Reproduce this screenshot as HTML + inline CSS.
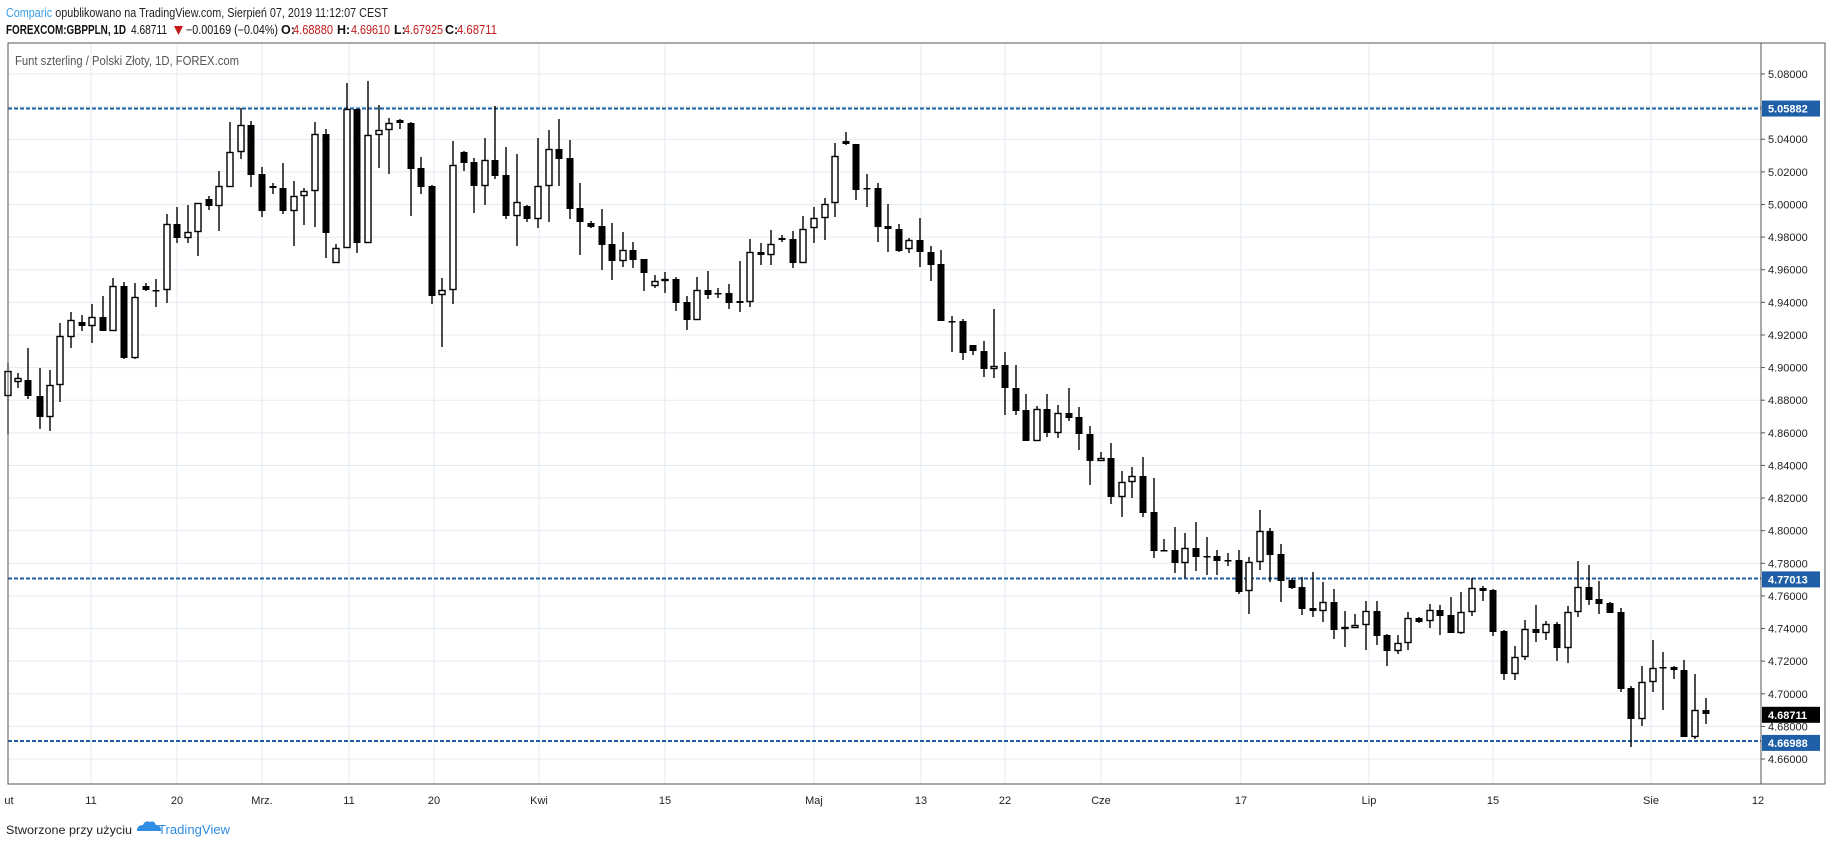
<!DOCTYPE html>
<html><head><meta charset="utf-8"><style>
html,body{margin:0;padding:0;background:#fff;}
svg{display:block;font-family:"Liberation Sans",sans-serif;}
</style></head><body>
<svg id="s" width="1828" height="849" xmlns="http://www.w3.org/2000/svg">
<rect width="1828" height="849" fill="#fff"/>
<text x="6" y="17" font-size="12.5" textLength="382" lengthAdjust="spacingAndGlyphs"><tspan fill="#3a9ee6">Comparic</tspan><tspan fill="#222"> opublikowano na TradingView.com, Sierpień 07, 2019 11:12:07 CEST</tspan></text>
<g font-size="12.5" fill="#111">
<text x="6" y="34" font-weight="bold" textLength="120" lengthAdjust="spacingAndGlyphs">FOREXCOM:GBPPLN, 1D</text>
<text x="131" y="34" textLength="36" lengthAdjust="spacingAndGlyphs">4.68711</text>
<polygon points="174,26 183,26 178.5,35" fill="#c21a1a"/>
<text x="186" y="34" textLength="92" lengthAdjust="spacingAndGlyphs">−0.00169 (−0.04%)</text>
<text x="281" y="34" font-weight="bold">O:</text><text x="293" y="34" fill="#c21a1a" textLength="40" lengthAdjust="spacingAndGlyphs">4.68880</text>
<text x="337" y="34" font-weight="bold">H:</text><text x="351" y="34" fill="#c21a1a" textLength="39" lengthAdjust="spacingAndGlyphs">4.69610</text>
<text x="394" y="34" font-weight="bold">L:</text><text x="404" y="34" fill="#c21a1a" textLength="39" lengthAdjust="spacingAndGlyphs">4.67925</text>
<text x="445" y="34" font-weight="bold">C:</text><text x="457" y="34" fill="#c21a1a" textLength="40" lengthAdjust="spacingAndGlyphs">4.68711</text>
</g>
<g id="grid" stroke="#e3ebf2" stroke-width="1"></g>
<g id="dash" stroke="#1e5fa8" stroke-width="2" stroke-dasharray="4,2">
<line x1="8" x2="1761" y1="108.5" y2="108.5"/>
<line x1="8" x2="1761" y1="578.5" y2="578.5"/>
<line x1="8" x2="1761" y1="741" y2="741"/>
</g>
<g id="candles"></g>
<rect x="8" y="43" width="1817" height="741" fill="none" stroke="#555" stroke-width="1"/>
<line x1="1761" y1="43" x2="1761" y2="784" stroke="#555"/>
<line x1="8" y1="784" x2="1825" y2="784" stroke="#555"/>
<text x="15" y="65" font-size="12.5" fill="#555" textLength="224" lengthAdjust="spacingAndGlyphs">Funt szterling / Polski Złoty, 1D, FOREX.com</text>
<g id="axis" font-size="11" fill="#222"></g>
<g id="time" font-size="11" fill="#222" text-anchor="middle"></g>
<text x="6" y="834" font-size="12" fill="#222" textLength="126" lengthAdjust="spacingAndGlyphs">Stworzone przy użyciu</text>
<path d="M137,831 q0,-6 6,-6 q2,-5 7,-3 q4,-2 6,3 q5,0 5,6 z" fill="#2f8de4"/>
<text x="158" y="834" font-size="12.5" fill="#2f8de4" textLength="72" lengthAdjust="spacingAndGlyphs">TradingView</text>
</svg>
<script>
var NS="http://www.w3.org/2000/svg";
function el(p,t,a,txt){var e=document.createElementNS(NS,t);for(var k in a)e.setAttribute(k,a[k]);if(txt)e.textContent=txt;document.getElementById(p).appendChild(e);return e;}
function Y(p){return 74+(5.08-p)/0.02*32.62;}
var vx=[9,91,177,262,349,434,539,665,814,921,1005,1101,1241,1369,1493,1651,1758];
var vl=["ut","11","20","Mrz.","11","20","Kwi","15","Maj","13","22","Cze","17","Lip","15","Sie","12"];
for(var i=0;i<vx.length;i++){if(i>0&&i<vx.length-1)el("grid","line",{x1:vx[i],x2:vx[i],y1:43,y2:784});el("time","text",{x:vx[i],y:804},vl[i]);}
for(var k=0;k<=21;k++){var p=5.08-k*0.02,y=Y(p);el("grid","line",{x1:8,x2:1761,y1:y,y2:y});el("axis","line",{x1:1761,x2:1765,y1:y,y2:y,stroke:"#555"});el("axis","text",{x:1768,y:y+4},p.toFixed(5));}
var sp=[[5.05882,"#1e5fa8"],[4.77013,"#1e5fa8"],[4.68711,"#000"],[4.66988,"#1e5fa8"]];
sp.forEach(function(s){var y=Y(s[0]);el("axis","rect",{x:1762,y:y-8,width:58,height:16,fill:s[1]});el("axis","text",{x:1768,y:y+4,fill:"#fff","font-weight":"bold"},s[0].toFixed(5));});
var C=[[8,'w',371,396,363,434],[18,'w',378,382,373,388],[28,'b',380,396,348,399],[40,'b',396,417,368,429],[50,'w',385,417,370,431],[60,'w',336,385,323,402],
[71,'w',320,337,312,348],[82,'b',322,326,315,331],[92,'w',317,326,304,343],[103,'b',317,331,296,331],[113,'w',286,331,278,331],[124,'b',286,358,282,359],[135,'w',297,358,283,359],[146,'b',286,290,283,291],[156,'b',290,291,279,307],[167,'w',224,290,214,303],[177,'b',224,238,207,243],[188,'w',232,238,205,243],[198,'w',203,232,203,256],[209,'b',199,206,196,210],[219,'w',186,206,171,231],[230,'w',152,187,122,187],[241,'w',125,152,108,159],[251,'b',125,175,121,187],
[262,'b',174,211,167,217],[273,'b',186,188,183,194],[283,'b',188,211,163,214],[294,'w',196,211,181,246],[304,'w',191,196,188,225],[315,'w',134,191,122,227],[326,'b',134,233,129,258],[336,'w',248,263,244,263],[347,'w',109,248,83,248],[357,'b',109,243,109,253],[368,'w',135,243,81,243],[379,'w',130,135,105,168],[389,'w',123,130,118,174],[400,'b',120,123,119,129],[411,'b',123,169,122,216],[421,'b',168,187,157,194],[432,'b',186,296,185,304],[442,'w',290,295,278,347],[453,'w',165,290,141,304],[464,'b',152,163,151,171],[474,'b',162,186,158,213],[485,'w',160,186,138,205],[495,'b',160,176,106,179],[506,'b',175,216,147,219],
[517,'w',202,216,154,246],[527,'b',206,219,205,222],[538,'w',186,219,138,228],[549,'w',149,186,130,222],[559,'b',149,159,119,186],[570,'b',158,209,140,219],[580,'b',208,222,183,255],[591,'b',223,227,221,228],[602,'b',226,245,209,270],[612,'b',244,261,223,280],[623,'w',250,261,232,267],[633,'b',250,260,242,268],[644,'b',259,273,259,291],[655,'w',281,286,275,288],[665,'w',279,281,272,293],[676,'b',279,303,277,311],[687,'b',302,320,296,330],[697,'w',290,320,277,320],[708,'b',290,295,271,299],[718,'b',293,294,288,298],[729,'b',293,303,284,309],[740,'b',301,303,261,312],[750,'w',252,302,239,307],[761,'b',252,255,243,265],[771,'w',244,255,230,265],[782,'b',238,240,235,242],[793,'b',239,263,231,268],
[803,'w',229,263,216,263],[814,'w',218,228,207,243],[825,'w',204,218,198,240],[835,'w',156,203,143,217],[846,'b',141,144,132,145],[856,'b',144,190,144,200],[867,'b',188,189,174,207],[878,'b',188,227,183,242],[888,'b',226,229,204,252],[899,'b',229,251,224,252],[909,'w',240,249,238,253],[920,'b',240,252,218,267],[931,'b',252,265,246,281],[941,'b',264,321,250,321],[952,'b',321,322,316,352],[963,'b',321,353,319,360],[973,'b',345,351,345,355],[984,'b',351,369,341,377],[994,'w',366,369,309,378],[1005,'b',365,388,352,415],[1016,'b',388,411,365,415],[1026,'b',410,441,394,441],[1037,'w',409,441,406,441],[1047,'b',409,433,394,437],[1058,'w',413,433,405,438],[1069,'b',413,418,388,421],[1079,'b',417,434,407,450],
[1090,'b',434,461,426,485],[1101,'w',458,461,452,461],[1111,'b',458,497,443,504],[1122,'w',482,497,471,517],[1132,'w',476,482,467,498],[1143,'b',476,513,457,517],[1154,'b',512,551,478,558],[1164,'b',550,551,539,551],[1175,'b',550,563,527,573],[1185,'w',548,563,533,578],[1196,'b',548,557,522,571],[1207,'b',556,557,537,575],[1217,'b',556,561,550,575],[1228,'b',560,561,553,566],[1239,'b',560,592,550,594],[1249,'w',562,591,557,614],[1260,'w',531,562,510,570],[1270,'b',531,555,528,582],[1281,'b',554,581,544,602],[1292,'b',580,588,578,589],[1302,'b',587,609,577,615],[1313,'b',608,611,572,617],[1323,'w',602,611,582,622],[1334,'b',602,630,589,639],[1345,'w',627,629,611,647],[1355,'w',625,628,614,628],[1366,'w',611,625,601,650],[1377,'b',611,636,601,645],
[1387,'b',635,651,634,666],[1398,'w',643,651,635,654],[1408,'w',618,643,612,650],[1419,'b',618,622,617,623],[1430,'w',610,621,604,628],[1440,'b',610,616,605,635],[1451,'b',615,633,597,633],[1461,'w',612,633,592,634],[1472,'w',588,612,578,616],[1483,'b',588,591,586,601],[1493,'b',590,632,589,636],[1504,'b',631,674,630,680],[1515,'w',657,674,646,680],[1525,'w',629,657,620,660],[1536,'b',629,633,605,642],[1546,'w',624,633,621,640],[1557,'b',624,648,622,661],[1568,'w',612,648,606,663],[1578,'w',587,612,561,617],[1589,'b',587,600,565,605],[1599,'b',599,604,581,614],[1610,'b',603,613,602,613],[1621,'b',612,689,608,692],[1631,'b',688,719,686,747],[1642,'w',682,719,666,726],[1653,'w',668,682,640,692],[1663,'b',667,668,652,710],[1674,'b',667,670,666,679],[1684,'b',670,737,660,737],[1695,'w',710,737,674,739],[1706,'b',710,714,698,724]];
C.forEach(function(c){var x=c[0];el("candles","line",{x1:x,x2:x,y1:c[4],y2:c[5],stroke:"#000","stroke-width":1.4});
var h=Math.max(c[3]-c[2],1.5);
if(c[1]=='b')el("candles","rect",{x:x-3.5,y:c[2],width:7,height:h,fill:"#000"});
else el("candles","rect",{x:x-3,y:c[2]+0.5,width:6,height:Math.max(h-1,1),fill:"#fff",stroke:"#000","stroke-width":1.4});});
</script>
</body></html>
